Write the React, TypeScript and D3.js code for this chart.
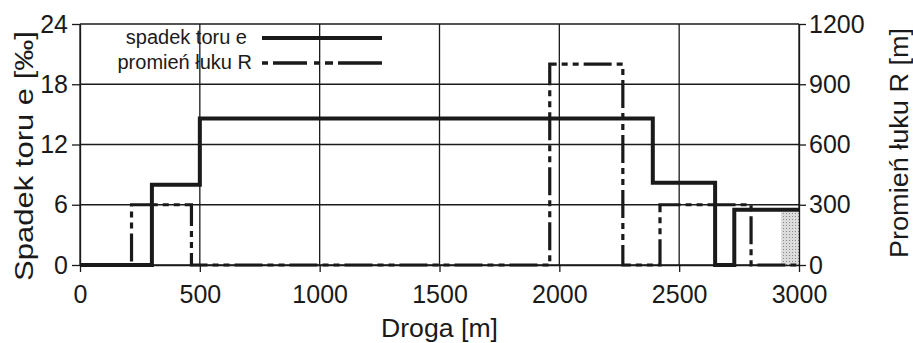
import React, { useRef, useEffect } from 'react';
import * as d3 from 'd3';

// step profile of the track, distances in m
const eBreaks = [0, 300, 500, 2390, 2650, 2730, 3000];
const eValues = [0, 8, 14.6, 8.2, 0, 5.5];

const rBreaks = [0, 215, 465, 1960, 2265, 2420, 2800, 3000];
const rValues = [0, 300, 0, 1000, 0, 300, 0];

// shaded part at the end of the track
const shadeFrom = 2925;
const shadeTo = 3000;
const shadeTop = 5.3;

const xTicks = [0, 500, 1000, 1500, 2000, 2500, 3000];
const eTicks = [0, 6, 12, 18, 24];
const rTicks = [0, 300, 600, 900, 1200];

const legendLabels = ['spadek toru e', 'promień łuku R'];

const FONT = "'Liberation Sans', Arial, Helvetica, sans-serif";
const INK = '#1a1a1a';

const App = () => {
  const svgRef = useRef<SVGSVGElement>(null);

  useEffect(() => {
    const svg = d3.select(svgRef.current);
    svg.selectAll('*').remove();

    const width = 913;
    const height = 343;
    const margin = { top: 24, bottom: 78, left: 80, right: 114 };

    const x = d3.scaleLinear().domain([0, 3000]).range([margin.left, width - margin.right]);
    const yE = d3.scaleLinear().domain([0, 24]).range([height - margin.bottom, margin.top]);
    const yR = d3.scaleLinear().domain([0, 1200]).range([height - margin.bottom, margin.top]);

    const defs = svg.append('defs');
    const pat = defs.append('pattern').attr('id', 'dots')
      .attr('width', 3).attr('height', 3).attr('patternUnits', 'userSpaceOnUse');
    pat.append('rect').attr('width', 3).attr('height', 3).attr('fill', '#dcdcdc');
    pat.append('rect').attr('width', 1).attr('height', 1).attr('fill', '#8a8a8a');

    // grid
    const grid = svg.append('g').attr('stroke', INK).attr('stroke-width', 1.3);
    grid.selectAll('line.v').data(xTicks).join('line')
      .attr('x1', d => x(d)).attr('x2', d => x(d))
      .attr('y1', yE(0)).attr('y2', yE(24));
    grid.selectAll('line.h').data(eTicks).join('line')
      .attr('class', 'h')
      .attr('x1', x(0)).attr('x2', x(3000))
      .attr('y1', d => yE(d)).attr('y2', d => yE(d));

    // shaded area
    svg.append('rect')
      .attr('x', x(shadeFrom)).attr('width', x(shadeTo) - x(shadeFrom))
      .attr('y', yE(shadeTop)).attr('height', yE(0) - yE(shadeTop))
      .attr('fill', 'url(#dots)');

    const stepLine = (ys: d3.ScaleLinear<number, number>) => d3.line<[number, number]>()
      .x(d => x(d[0]))
      .y(d => ys(d[1]))
      .curve(d3.curveStepAfter);

    const rPts: [number, number][] = rBreaks.map((b, i) => [b, rValues[Math.min(i, rValues.length - 1)]]);
    const ePts: [number, number][] = eBreaks.map((b, i) => [b, eValues[Math.min(i, eValues.length - 1)]]);

    svg.append('path').datum(rPts)
      .attr('fill', 'none').attr('stroke', INK).attr('stroke-width', 3.2)
      .attr('stroke-dasharray', '28,5,6,5,6,5')
      .attr('d', stepLine(yR));

    svg.append('path').datum(ePts)
      .attr('fill', 'none').attr('stroke', INK).attr('stroke-width', 4)
      .attr('stroke-linejoin', 'miter')
      .attr('d', stepLine(yE));

    // axes
    const styleAxis = (g: any) => {
      g.select('.domain').attr('stroke', INK).attr('stroke-width', 1.3);
      g.selectAll('.tick line').attr('stroke', INK).attr('stroke-width', 1.3);
      g.selectAll('.tick text').attr('fill', INK).style('font-size', '25px').style('font-family', FONT);
    };
    const fmt = d3.format('d');

    svg.append('g')
      .attr('transform', `translate(0,${yE(0)})`)
      .call(d3.axisBottom(x).tickValues(xTicks).tickFormat(fmt).tickSize(7).tickSizeOuter(0).tickPadding(13))
      .call(styleAxis);

    svg.append('g')
      .attr('transform', `translate(${x(0)},0)`)
      .call(d3.axisLeft(yE).tickValues(eTicks).tickFormat(fmt).tickSize(8).tickSizeOuter(0).tickPadding(4))
      .call(styleAxis);

    svg.append('g')
      .attr('transform', `translate(${x(3000)},0)`)
      .call(d3.axisRight(yR).tickValues(rTicks).tickFormat(fmt).tickSize(7).tickSizeOuter(0).tickPadding(3))
      .call(styleAxis);

    // titles
    const title = (txt: string, len: number) => svg.append('text').text(txt)
      .attr('text-anchor', 'middle').attr('fill', INK)
      .attr('textLength', len).attr('lengthAdjust', 'spacingAndGlyphs')
      .style('font-size', '25px').style('font-family', FONT);

    title('Droga [m]', 117)
      .attr('x', (x(0) + x(3000)) / 2).attr('y', 337);

    title('Spadek toru e [‰]', 250)
      .attr('transform', `translate(33,156) rotate(-90)`);

    title('Promień łuku R [m]', 230)
      .attr('transform', `translate(908,143) rotate(-90)`);

    // legend
    const legend = svg.append('g');
    legendLabels.forEach((label, i) => {
      const ly = 38 + i * 25;
      legend.append('text').text(label)
        .attr('x', i === 0 ? 247 : 252).attr('y', ly + 6)
        .attr('text-anchor', 'end').attr('fill', INK)
        .style('font-size', '20px').style('font-family', FONT);
      legend.append('line')
        .attr('x1', 262).attr('x2', 382).attr('y1', ly).attr('y2', ly)
        .attr('stroke', INK)
        .attr('stroke-width', i === 0 ? 4 : 3.5)
        .attr('stroke-dasharray', i === 0 ? null : '6,5,34,7,6,5,8,5,60');
    });
  }, []);

  return (
    <svg ref={svgRef} width={913} height={343}
      style={{ position: 'absolute', left: 0, top: 0, background: '#fff' }} />
  );
};

export default App;
